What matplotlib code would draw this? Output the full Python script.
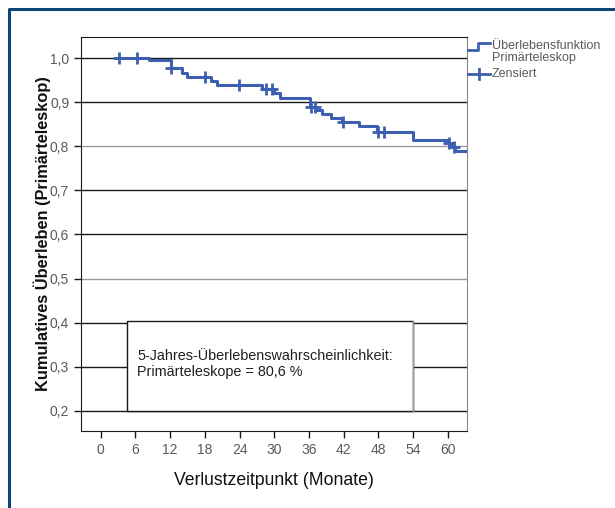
import numpy as np
import matplotlib
matplotlib.use('Agg')
import matplotlib.pyplot as plt
from matplotlib.patches import Rectangle
from matplotlib.lines import Line2D

plt.rcParams['font.family'] = ['Liberation Sans', 'DejaVu Sans']

# Kaplan-Meier curve
start_month = 2.6
end_month = 63.5
event_months = [8.3, 12.1, 14.1, 15.0, 19.0, 20.1, 27.9, 29.9, 31.0,
                36.2, 37.1, 38.3, 39.8, 41.7, 44.7, 47.8, 53.9, 59.8, 60.5, 61.2]
survival = [0.995, 0.978, 0.967, 0.958, 0.949, 0.940, 0.930, 0.920, 0.910,
            0.890, 0.882, 0.873, 0.864, 0.856, 0.846, 0.832, 0.815, 0.807, 0.798, 0.789]
censor_months = [3.2, 6.2, 12.2, 18.1, 23.9, 28.6, 29.6, 36.3, 37.0,
                 41.8, 47.9, 48.9, 60.2, 61.0]

x_ticks = [0, 6, 12, 18, 24, 30, 36, 42, 48, 54, 60]
y_ticks = [0.2, 0.3, 0.4, 0.5, 0.6, 0.7, 0.8, 0.9, 1.0]
y_labels = ['0,2', '0,3', '0,4', '0,5', '0,6', '0,7', '0,8', '0,9', '1,0']

blue = '#3d5fb0'
grey_txt = '#5a5a5a'

fig = plt.figure(figsize=(6.15, 5.08), dpi=100)
ax = fig.add_axes([81/615, 77/508, 386/615, 394/508])

# horizontal grid lines (0,8 and 0,5 appear lighter)
for y in y_ticks:
    c = '#9a9a9a' if y in (0.8, 0.5) else '#1a1a1a'
    ax.axhline(y, color=c, lw=1.0, zorder=1)

times = [start_month] + event_months + [end_month]
vals = [1.0] + survival + [survival[-1]]
ax.step(times, vals, where='post', color=blue, lw=2.2, zorder=3)

idx = np.searchsorted(event_months, censor_months, side='right')
cens_vals = np.array([1.0] + survival)[idx]
ax.plot(censor_months, cens_vals, linestyle='none', marker='+', ms=9, mew=2,
        color=blue, zorder=4)

# text box
box = Rectangle((4.6, 0.2), 49.4, 0.2045, facecolor='white', edgecolor='#1a1a1a',
                lw=1.0, zorder=2)
ax.add_patch(box)
ax.plot([54, 54], [0.2, 0.4045], color='#9a9a9a', lw=1.0, zorder=2)
ax.text(6.3, 0.306, '5-Jahres-Überlebenswahrscheinlichkeit:\nPrimärteleskope = 80,6 %',
        fontsize=10.4, color='#202020', va='center', ha='left', zorder=5,
        linespacing=1.2)

ax.set_xlim(-3.4, 63.3)
ax.set_ylim(0.1545, 1.0477)
ax.set_xticks(x_ticks)
ax.set_yticks(y_ticks)
ax.set_yticklabels(y_labels)
ax.tick_params(axis='both', direction='out', length=5, width=1, colors='#1a1a1a',
               labelcolor=grey_txt, labelsize=10)
for sp in ['top', 'left', 'bottom']:
    ax.spines[sp].set_color('#1a1a1a')
ax.spines['right'].set_color('#8a8a8a')

ax.set_xlabel('Verlustzeitpunkt (Monate)', fontsize=12.7, color='#111111', labelpad=11)
ax.set_ylabel('Kumulatives Überleben (Primärteleskop)', fontsize=11.8,
              fontweight='bold', color='#111111', labelpad=-1)

# legend drawn outside the axes (right)
def fx(px):
    return px / 615

def fy(py):
    return 1 - py / 508

fig.add_artist(Line2D([fx(468), fx(478), fx(478), fx(490)],
                      [fy(50), fy(50), fy(43), fy(43)], color=blue, lw=2))
fig.add_artist(Line2D([fx(468), fx(490)], [fy(74), fy(74)], color=blue, lw=2))
fig.add_artist(Line2D([fx(479), fx(479)], [fy(69), fy(79)], color=blue, lw=2))
fig.text(fx(492), fy(46), 'Überlebensfunktion', fontsize=9, color=grey_txt, va='center')
fig.text(fx(492), fy(58), 'Primärteleskop', fontsize=9, color=grey_txt, va='center')
fig.text(fx(492), fy(74), 'Zensiert', fontsize=9, color=grey_txt, va='center')

# outer frame (blue, left and top)
frame_c = '#0d4577'
fig.add_artist(Line2D([fx(8.5), fx(8.5), 1], [0, fy(8.5), fy(8.5)], color=frame_c, lw=2.2))

fig.savefig('out.png', dpi=100)
